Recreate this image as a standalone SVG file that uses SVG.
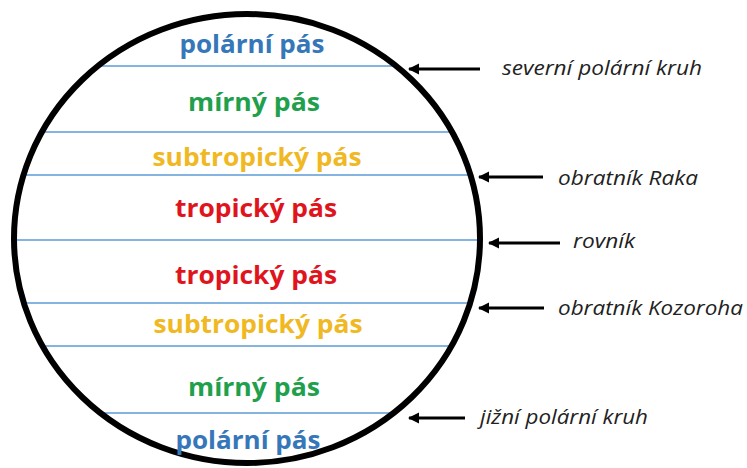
<svg xmlns="http://www.w3.org/2000/svg" width="747" height="468" viewBox="0 0 747 468">
<defs>
<style>
.zone{font-family:"Open Sans","Noto Sans",sans-serif;font-weight:bold;font-size:25px;text-anchor:middle}
.lbl{font-family:"Open Sans","Noto Sans",sans-serif;font-style:italic;font-size:19.5px;fill:#222}
.lat{stroke:#5b9bd5;stroke-width:1.5;fill:none}
.arr{stroke:#000;stroke-width:2.8;fill:none;marker-end:url(#ah)}
.blue{fill:#3577b8}.green{fill:#1fa04c}.yellow{fill:#f0b823}.red{fill:#e0141d}
</style>
<marker id="ah" viewBox="0 0 10 10" refX="9" refY="5" markerWidth="4.2" markerHeight="4" orient="auto" markerUnits="strokeWidth">
<path d="M0,0 L10,5 L0,10 Z" fill="#000"/>
</marker>
</defs>
<rect width="747" height="468" fill="#fff"/>
<g id="latitudes">
<line class="lat" x1="99" y1="66" x2="396" y2="66"/>
<line class="lat" x1="42" y1="132" x2="452" y2="132"/>
<line class="lat" x1="23" y1="175" x2="471" y2="175"/>
<line class="lat" x1="14" y1="240" x2="480" y2="240"/>
<line class="lat" x1="23" y1="303" x2="471" y2="303"/>
<line class="lat" x1="42" y1="346" x2="452" y2="346"/>
<line class="lat" x1="100" y1="413" x2="394" y2="413"/>
</g>
<g id="globe">
<ellipse cx="247" cy="238.5" rx="233" ry="224.5" fill="none" stroke="#000" stroke-width="6"/>
</g>
<g id="zones">
<text class="zone blue" x="252" y="53" textLength="145" lengthAdjust="spacingAndGlyphs">polární pás</text>
<text class="zone green" x="254" y="111" textLength="132" lengthAdjust="spacingAndGlyphs">mírný pás</text>
<text class="zone yellow" x="257" y="166" textLength="209" lengthAdjust="spacingAndGlyphs">subtropický pás</text>
<text class="zone red" x="256" y="217" textLength="162" lengthAdjust="spacingAndGlyphs">tropický pás</text>
<text class="zone red" x="256" y="284" textLength="162" lengthAdjust="spacingAndGlyphs">tropický pás</text>
<text class="zone yellow" x="258" y="333" textLength="209" lengthAdjust="spacingAndGlyphs">subtropický pás</text>
<text class="zone green" x="254" y="396" textLength="132" lengthAdjust="spacingAndGlyphs">mírný pás</text>
<text class="zone blue" x="248" y="449" textLength="145" lengthAdjust="spacingAndGlyphs">polární pás</text>
</g>
<g id="connectors">
<line class="arr" x1="480" y1="69" x2="409" y2="69"/>
<line class="arr" x1="543" y1="177" x2="479" y2="177"/>
<line class="arr" x1="560" y1="243" x2="489" y2="243"/>
<line class="arr" x1="544" y1="308" x2="479" y2="308"/>
<line class="arr" x1="465" y1="418" x2="409" y2="418"/>
</g>
<g id="labels">
<text class="lbl" x="502" y="75" textLength="200" lengthAdjust="spacingAndGlyphs">severní polární kruh</text>
<text class="lbl" x="558" y="185" textLength="140" lengthAdjust="spacingAndGlyphs">obratník Raka</text>
<text class="lbl" x="573" y="248" textLength="62" lengthAdjust="spacingAndGlyphs">rovník</text>
<text class="lbl" x="558" y="315" textLength="185" lengthAdjust="spacingAndGlyphs">obratník Kozoroha</text>
<text class="lbl" x="480" y="424" textLength="168" lengthAdjust="spacingAndGlyphs">jižní polární kruh</text>
</g>
</svg>
